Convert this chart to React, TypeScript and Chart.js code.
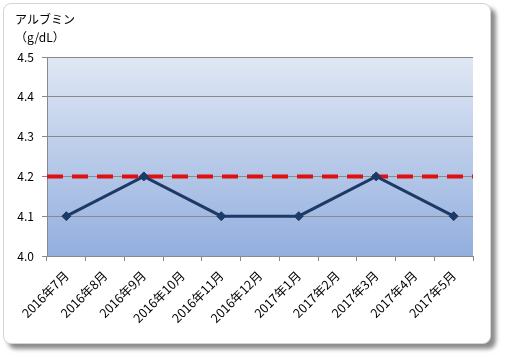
import React, { useEffect, useRef } from "react";
import { Chart, registerables } from "chart.js";

Chart.register(...registerables);

const CATEGORIES = [
  "2016年7月", "2016年8月", "2016年9月", "2016年10月", "2016年11月", "2016年12月",
  "2017年1月", "2017年2月", "2017年3月", "2017年4月", "2017年5月",
];
const ALBUMIN = [4.1, null, 4.2, null, 4.1, null, 4.1, null, 4.2, null, 4.1];
const TARGET_LABELS = ["start", "end"];
const TARGET = [4.2, 4.2];
const Y_MIN = 4.0;
const Y_MAX = 4.5;
const Y_STEP = 0.1;
const TITLE_LINES = ["アルブミン", "（g/dL）"];

const FONT = "'Noto Sans CJK JP', 'Noto Sans', sans-serif";

const bgPlugin = {
  id: "plotBg",
  beforeDraw(chart: any) {
    const { ctx, chartArea } = chart;
    if (!chartArea) return;
    const g = ctx.createLinearGradient(0, chartArea.top, 0, chartArea.bottom);
    g.addColorStop(0, "#e0e7f4");
    g.addColorStop(1, "#93afde");
    ctx.save();
    ctx.fillStyle = g;
    ctx.fillRect(chartArea.left, chartArea.top, chartArea.right - chartArea.left, chartArea.bottom - chartArea.top);
    ctx.restore();
  },
};

export default function App() {
  const ref = useRef<HTMLCanvasElement | null>(null);
  useEffect(() => {
    if (!ref.current) return;
    const chart = new Chart(ref.current, {
      type: "line",
      data: {
        labels: CATEGORIES,
        datasets: [
          {
            data: ALBUMIN as any,
            borderColor: "#1d3a66",
            backgroundColor: "#1d3a66",
            borderWidth: 3,
            pointStyle: "rectRot",
            pointRadius: 4.5,
            pointBorderWidth: 1,
            spanGaps: true,
            tension: 0,
            order: 0,
          },
          {
            data: TARGET,
            xAxisID: "x2",
            borderColor: "#e01010",
            borderWidth: 4,
            borderDash: [16, 9],
            pointRadius: 0,
            order: 1,
          },
        ],
      },
      options: {
        responsive: false,
        animation: false,
        devicePixelRatio: 1,
        layout: { padding: { left: 15, right: 34, top: 0, bottom: 0 } },
        plugins: {
          legend: { display: false },
          tooltip: { enabled: false },
          title: {
            display: true,
            text: TITLE_LINES,
            align: "start",
            color: "#000",
            font: { family: FONT, size: 12, weight: "normal", lineHeight: 1.5 },
            padding: { top: 10, bottom: 11 },
          },
        },
        scales: {
          x: {
            type: "category",
            offset: true,
            grid: {
              offset: true,
              drawOnChartArea: false,
              drawTicks: true,
              tickLength: 5,
              color: "#8a8a8a",
            },
            border: { display: true, color: "#8a8a8a" },
            ticks: {
              autoSkip: false,
              minRotation: 45,
              maxRotation: 45,
              color: "#000",
              padding: 7,
              font: { family: FONT, size: 12.5 },
            },
            afterFit(scale: any) {
              scale.height = 103;
            },
          },
          x2: {
            type: "category",
            labels: TARGET_LABELS,
            offset: false,
            display: false,
          },
          y: {
            min: Y_MIN,
            max: Y_MAX,
            grid: { color: "#8a8a8a", tickLength: 5 },
            border: { display: true, color: "#8a8a8a" },
            ticks: {
              stepSize: Y_STEP,
              color: "#000",
              padding: 8,
              font: { family: FONT, size: 12 },
              callback: (v: any) => Number(v).toFixed(1),
            },
            afterFit(scale: any) {
              scale.width = 32;
            },
          },
        },
      },
      plugins: [bgPlugin],
    });
    return () => chart.destroy();
  }, []);

  return (
    <div style={{ position: "fixed", left: 0, top: 0, width: 507, height: 359, background: "#fff", overflow: "hidden" }}>
      <div
        style={{
          position: "absolute",
          left: 3,
          top: 3,
          width: 486,
          height: 339,
          border: "1px solid #d4d4d4",
          borderRadius: 8,
          background: "#fff",
          boxShadow: "5px 5px 4px #8c8c8c",
        }}
      />
      <canvas
        ref={ref}
        width={507}
        height={359}
        style={{ position: "absolute", left: 0, top: 0, width: 507, height: 359 }}
      />
    </div>
  );
}
